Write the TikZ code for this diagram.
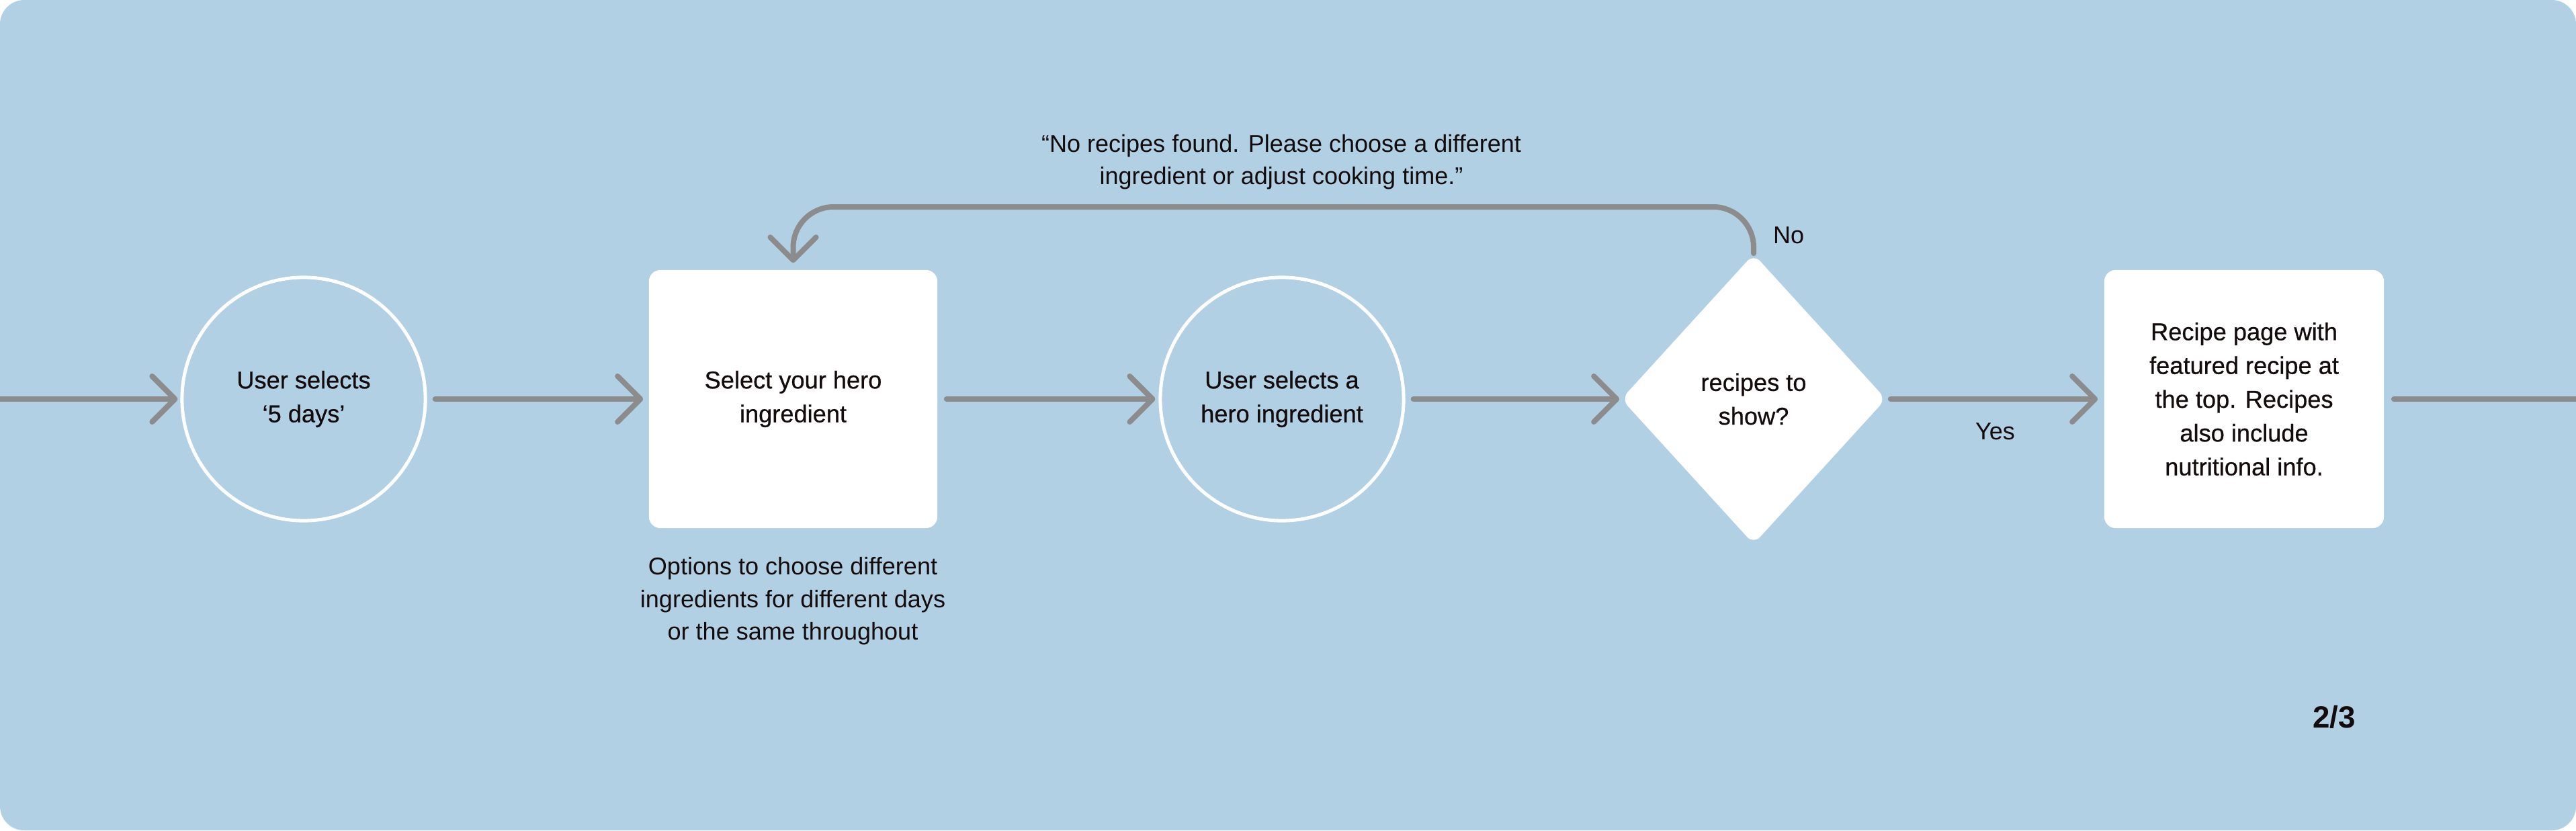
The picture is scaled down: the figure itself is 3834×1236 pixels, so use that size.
\documentclass[tikz,border=0pt]{standalone}
\usepackage{fontspec}
\setmainfont{Liberation Sans}
\newfontfamily\medfont[FakeBold=0.6]{Liberation Sans}
\usetikzlibrary{arrows.meta,shapes.geometric,calc}
\definecolor{bgblue}{HTML}{B2D0E4}
\definecolor{linegray}{HTML}{8C8C8C}
\definecolor{ink}{HTML}{140C0C}
\begin{document}
\begin{tikzpicture}[x=0.01cm,y=-0.01cm,
  every node/.style={text=ink,font=\medfont\fontsize{10.3pt}{14.3pt}\selectfont,align=center},
  circ/.style={circle,draw=white,line width=0.05cm,minimum size=3.62cm,inner sep=0},
  card/.style={rectangle,fill=white,rounded corners=0.17cm,inner sep=0},
  deci/.style={diamond,fill=white,rounded corners=0.14cm,minimum width=3.94cm,minimum height=4.32cm,inner sep=0},
  conn/.style={draw=linegray,line width=0.08cm,line cap=round,line join=round},
  arr/.style={conn,-{Straight Barb[length=0.34cm,width=0.68cm,round]}},
  lbl/.style={font=\fontsize{10.25pt}{13.8pt}\selectfont}
]
\useasboundingbox (0,0) rectangle (3834,1236);
\fill[bgblue,rounded corners=0.36cm] (0,0) rectangle (3834,1236);

\coordinate (in) at (0,594);
\coordinate (out) at (3834,594);
\node[circ] (c1) at (452,594) {User selects\\‘5 days’};
\node[card,minimum width=4.29cm,minimum height=3.84cm] (b1) at (1180.5,594) {Select your hero\\ingredient};
\node[circ] (c2) at (1908,594) {User selects a\\hero ingredient};
\node[deci] (dia) at (2610,594) {recipes to\\show?};
\node[card,minimum width=4.16cm,minimum height=3.84cm] (b2) at (3340,594) {Recipe page with\\featured recipe at\\the top. Recipes\\also include\\nutritional info.};

\node[lbl] (cap) at (1180,895) {Options to choose different\\ingredients for different days\\or the same throughout};
\node[lbl] (quote) at (1907,241) {“No recipes found. Please choose a different\\ingredient or adjust cooking time.”};
\node[lbl] (no) at (2662,350) {No};
\node[font=\bfseries\fontsize{13pt}{15pt}\selectfont] (page) at (3474,1067) {2/3};
\coordinate (lt) at (1180.5,308);

\draw[arr,shorten >=0.04cm] (in) -- (c1);
\draw[arr,shorten <=0.12cm,shorten >=0.08cm] (c1) -- (b1);
\draw[arr,shorten <=0.13cm,shorten >=0.05cm] (b1) -- (c2);
\draw[arr,shorten <=0.12cm,shorten >=0.02cm] (c2) -- (dia);
\draw[arr,shorten <=0.06cm,shorten >=0.09cm] (dia) -- node[lbl,yshift=-0.48cm] (yes) {Yes} (b2);
\draw[conn,shorten <=0.14cm] (b2) -- (out);
\draw[arr,rounded corners=0.6cm,shorten >=0.1cm] (dia.north) |- (lt) -- (b1.north);
\end{tikzpicture}
\end{document}
